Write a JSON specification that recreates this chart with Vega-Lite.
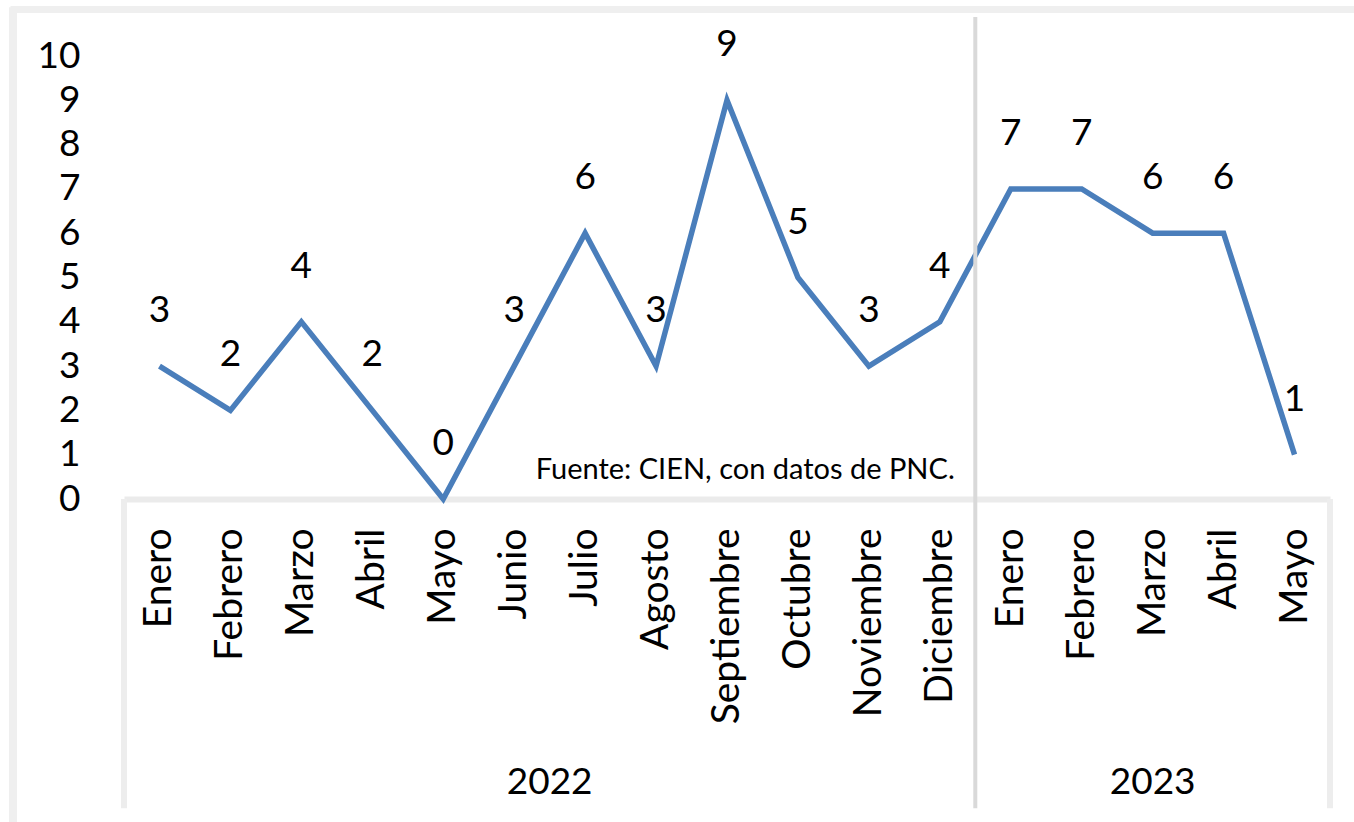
{
  "$schema": "https://vega.github.io/schema/vega-lite/v6.json",
  "autosize": "none",
  "width": 1206,
  "height": 443,
  "padding": {"left": 124, "top": 56, "right": 24, "bottom": 323},
  "background": "white",
  "config": {"view": {"stroke": null}, "font": "Lato", "text": {"font": "Lato", "color": "#000000"}},
  "data": {"values": [
    {"periodo": "Enero 2022", "mes": "Enero", "anio": "2022", "casos": 3},
    {"periodo": "Febrero 2022", "mes": "Febrero", "anio": "2022", "casos": 2},
    {"periodo": "Marzo 2022", "mes": "Marzo", "anio": "2022", "casos": 4},
    {"periodo": "Abril 2022", "mes": "Abril", "anio": "2022", "casos": 2},
    {"periodo": "Mayo 2022", "mes": "Mayo", "anio": "2022", "casos": 0},
    {"periodo": "Junio 2022", "mes": "Junio", "anio": "2022", "casos": 3},
    {"periodo": "Julio 2022", "mes": "Julio", "anio": "2022", "casos": 6},
    {"periodo": "Agosto 2022", "mes": "Agosto", "anio": "2022", "casos": 3},
    {"periodo": "Septiembre 2022", "mes": "Septiembre", "anio": "2022", "casos": 9},
    {"periodo": "Octubre 2022", "mes": "Octubre", "anio": "2022", "casos": 5},
    {"periodo": "Noviembre 2022", "mes": "Noviembre", "anio": "2022", "casos": 3},
    {"periodo": "Diciembre 2022", "mes": "Diciembre", "anio": "2022", "casos": 4},
    {"periodo": "Enero 2023", "mes": "Enero", "anio": "2023", "casos": 7},
    {"periodo": "Febrero 2023", "mes": "Febrero", "anio": "2023", "casos": 7},
    {"periodo": "Marzo 2023", "mes": "Marzo", "anio": "2023", "casos": 6},
    {"periodo": "Abril 2023", "mes": "Abril", "anio": "2023", "casos": 6},
    {"periodo": "Mayo 2023", "mes": "Mayo", "anio": "2023", "casos": 1}
  ]},
  "layer": [
    {
      "mark": {"type": "line", "color": "#4a7ebb", "strokeWidth": 5.5},
      "encoding": {
        "x": {
          "field": "periodo", "type": "nominal", "sort": null,
          "scale": {"type": "band", "paddingInner": 0, "paddingOuter": 0,
            "domain": ["Enero 2022", "Febrero 2022", "Marzo 2022", "Abril 2022", "Mayo 2022", "Junio 2022", "Julio 2022", "Agosto 2022", "Septiembre 2022", "Octubre 2022", "Noviembre 2022", "Diciembre 2022", "Enero 2023", "Febrero 2023", "Marzo 2023", "Abril 2023", "Mayo 2023"]},
          "axis": {
            "title": null,
            "labelExpr": "split(datum.label, ' ')[0]",
            "labelAngle": -90, "labelAlign": "right", "labelBaseline": "middle",
            "labelPadding": 29, "ticks": false,
            "domainColor": "#ebebeb", "domainWidth": 6,
            "labelFont": "Lato", "labelFontSize": 39, "labelColor": "#000000",
            "labelOverlap": false, "labelLimit": 0
          }
        },
        "y": {
          "field": "casos", "type": "quantitative",
          "scale": {"domain": [0, 10], "nice": false, "zero": true},
          "axis": {
            "title": null, "values": [0, 1, 2, 3, 4, 5, 6, 7, 8, 9, 10],
            "domain": false, "ticks": false, "grid": false,
            "labelPadding": 44, "labelFont": "Lato", "labelFontSize": 37, "labelColor": "#000000"
          }
        }
      }
    },
    {
      "mark": {"type": "text", "fontSize": 37, "baseline": "middle", "align": "center", "dy": -55},
      "encoding": {
        "x": {"field": "periodo", "type": "nominal", "sort": null},
        "y": {"field": "casos", "type": "quantitative"},
        "text": {"field": "casos", "type": "quantitative"}
      }
    },
    {
      "data": {"values": [{}]},
      "mark": {"type": "rule", "color": "#ededed", "strokeWidth": 6},
      "encoding": {
        "x": {"datum": "Enero 2022", "bandPosition": 0},
        "y": {"datum": 0},
        "y2": {"datum": -6.98}
      }
    },
    {
      "data": {"values": [{}]},
      "mark": {"type": "rule", "color": "#ededed", "strokeWidth": 6},
      "encoding": {
        "x": {"datum": "Mayo 2023", "bandPosition": 1},
        "y": {"datum": 0},
        "y2": {"datum": -6.98}
      }
    },
    {
      "data": {"values": [{}]},
      "mark": {"type": "rule", "color": "#d9d9d9", "strokeWidth": 4},
      "encoding": {
        "x": {"datum": "Enero 2023", "bandPosition": 0},
        "y": {"datum": 10.88},
        "y2": {"datum": -6.98}
      }
    },
    {
      "data": {"values": [{}]},
      "mark": {"type": "rule", "color": "#efefef", "strokeWidth": 7},
      "encoding": {
        "x": {"datum": "Enero 2022", "bandPosition": -1.6},
        "x2": {"datum": "Mayo 2023", "bandPosition": 1.4},
        "y": {"datum": 11.05}
      }
    },
    {
      "data": {"values": [{}]},
      "mark": {"type": "rule", "color": "#efefef", "strokeWidth": 8},
      "encoding": {
        "x": {"datum": "Enero 2022", "bandPosition": -1.565},
        "y": {"datum": 11.1},
        "y2": {"datum": -7.4}
      }
    },
    {
      "data": {"values": [{}]},
      "mark": {"type": "text", "fontSize": 37, "baseline": "middle", "align": "center", "text": "2022"},
      "encoding": {
        "x": {"datum": "Julio 2022", "bandPosition": 0},
        "y": {"datum": -6.41}
      }
    },
    {
      "data": {"values": [{}]},
      "mark": {"type": "text", "fontSize": 37, "baseline": "middle", "align": "center", "text": "2023"},
      "encoding": {
        "x": {"datum": "Marzo 2023", "bandPosition": 0.5},
        "y": {"datum": -6.41}
      }
    },
    {
      "data": {"values": [{}]},
      "mark": {"type": "text", "fontSize": 29, "baseline": "middle", "align": "right", "text": "Fuente: CIEN, con datos de PNC."},
      "encoding": {
        "x": {"datum": "Diciembre 2022", "bandPosition": 0.71},
        "y": {"datum": 0.65}
      }
    }
  ]
}
